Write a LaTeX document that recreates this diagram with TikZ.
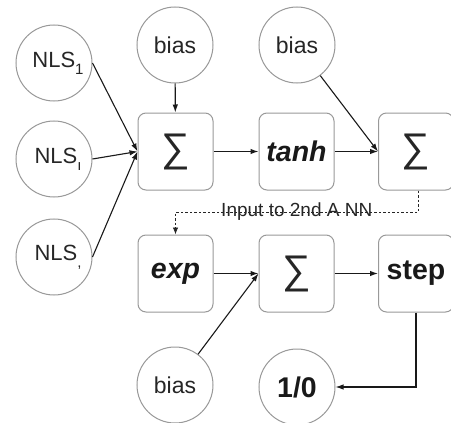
\documentclass[tikz,border=0pt]{standalone}
\usepackage{fontspec}
\setmainfont{Liberation Sans}
\usetikzlibrary{arrows.meta}
\newcommand{\nlssub}[1]{\raisebox{-7pt}{\fontsize{15}{15}\selectfont #1}}
\begin{document}
\begin{tikzpicture}[x=1pt,y=-1pt,
  circ/.style={circle,draw=black!40,line width=1pt,minimum size=76pt,inner sep=0pt,fill=white},
  rbox/.style={rectangle,rounded corners=8pt,draw=black!40,line width=1pt,minimum width=75pt,minimum height=77pt,inner sep=0pt,fill=white},
  conn/.style={line width=1.1pt,draw=black!90,-{Latex[length=8pt,width=5.5pt]}},
  dconn/.style={line width=0.8pt,draw=black!85,dash pattern=on 2.5pt off 2pt,-{Latex[length=7pt,width=5.5pt]}},
  sig/.style={font=\fontsize{40}{40}\selectfont,text=black!85},
  bl/.style={font=\fontsize{28.5}{30}\selectfont\bfseries,text=black!90},
  bi/.style={font=\fontsize{28.5}{30}\selectfont\bfseries\itshape,text=black!90},
  nls/.style={font=\fontsize{22}{22}\selectfont,text=black!85,xshift=4pt},
  bs/.style={font=\fontsize{23}{24}\selectfont,text=black!85}]
\useasboundingbox (0,0) rectangle (451,423);
% nodes
\node[circ] (n1) at (54,63) {};
\node[circ] (n2) at (54,159) {};
\node[circ] (n3) at (54,257) {};
\node[nls] (t1) at (n1) {NLS\nlssub{1}};
\node[nls] (t2) at (n2) {NLS\nlssub{ı}};
\node[nls] (t3) at (n3) {NLS\nlssub{,}};
\node[circ,bs] (b1) at (175,45) {bias};
\node[circ,bs] (b2) at (297,45) {bias};
\node[circ,bs] (b3) at (175,385) {bias};
\node[circ,bl] (out) at (297,387) {1/0};
\node[rbox,sig] (s1) at (175.5,151.5) {∑};
\node[rbox,bi] (th) at (296.5,151.5) {tanh};
\node[rbox,sig] (s2) at (416,151.5) {∑};
\node[rbox,bi] (ex) at (175.5,273.5) {exp};
\node[rbox,sig] (s3) at (296.5,273.5) {∑};
\node[rbox,bl] (st) at (416,273.5) {step};
% connectors
\draw[conn] (n1.east) -- (s1.west);
\draw[conn] (n2.east) -- (s1.west);
\draw[conn] (n3.east) -- (s1.west);
\draw[conn] (b1) -- (s1);
\draw[conn] (s1) -- (th);
\draw[conn] (th) -- (s2);
\draw[conn] (b2) -- (s2.west);
\draw[conn] (ex) -- (s3);
\draw[conn] (b3) -- (s3.west);
\draw[conn] (s3) -- (st);
\draw[conn] (st.south) |- (out.east);
\coordinate (d1) at (418,212);
\coordinate (d2) at (175.5,212);
\draw[dconn] (s2.south -| d1) -- (d1) -- node[font=\fontsize{19}{20}\selectfont,text=black!85,inner sep=0pt] {Input to 2nd A NN} (d2) -- (ex.north);
\end{tikzpicture}
\end{document}
